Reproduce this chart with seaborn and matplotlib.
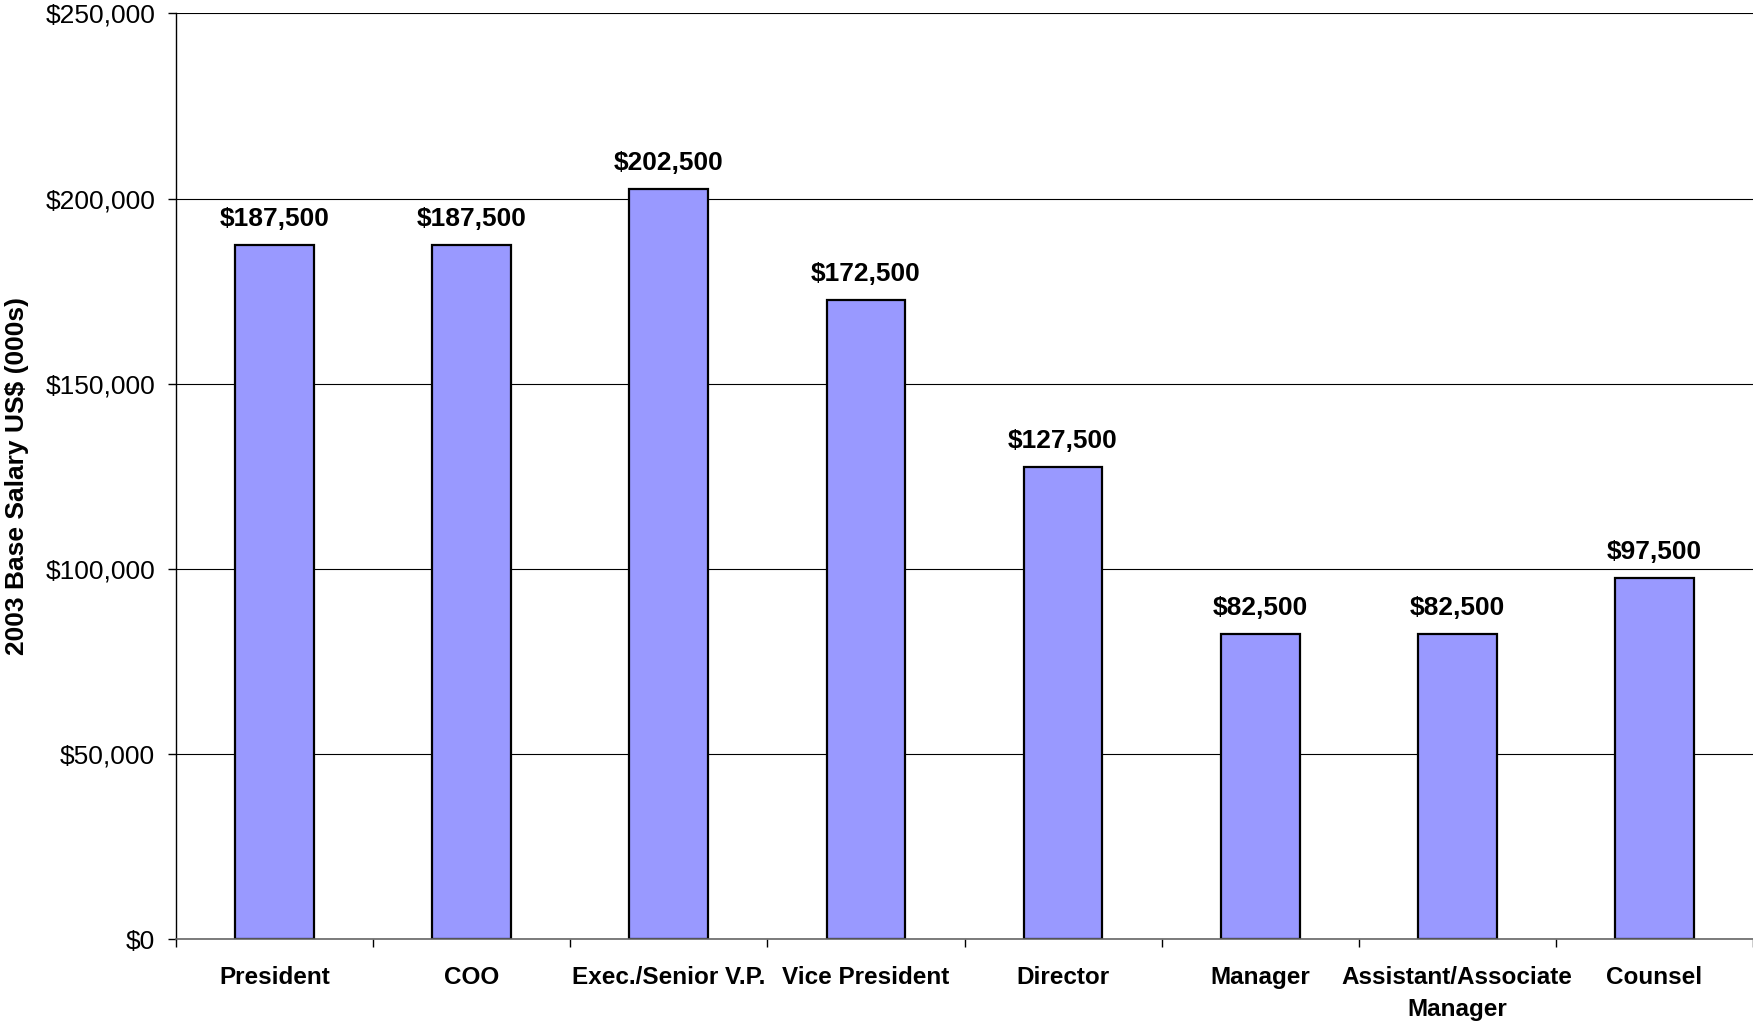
# %%
import numpy as np
import pandas as pd
import seaborn as sns
import matplotlib.pyplot as plt
from matplotlib.ticker import FuncFormatter, FixedLocator


# %%
positions = [
    "President",
    "COO",
    "Exec./Senior V.P.",
    "Vice President",
    "Director",
    "Manager",
    "Assistant/Associate\nManager",
    "Counsel",
]
base_salary = [187500, 187500, 202500, 172500, 127500, 82500, 82500, 97500]
y_label = "2003 Base Salary US$ (000s)"


# %%
sns.set_style("white")
plt.rcParams["font.family"] = ["Liberation Sans", "DejaVu Sans"]
plt.rcParams["text.color"] = "black"
plt.rcParams["xtick.color"] = "black"
plt.rcParams["ytick.color"] = "black"

df = pd.DataFrame({"position": positions, "salary": base_salary})

fig = plt.figure(figsize=(17.53, 10.21), dpi=100)
ax = fig.add_axes([0.1004, 0.0803, 0.8996, 0.9066])

sns.barplot(
    data=df,
    x="position",
    y="salary",
    color="#9999FF",
    saturation=1,
    edgecolor="black",
    linewidth=1.6,
    width=0.4,
    ax=ax,
)

ax.set_xlim(-0.5, len(positions) - 0.5)
ax.set_ylim(0, 250000)
ax.set_yticks(np.arange(0, 250001, 50000))
ax.yaxis.set_major_formatter(FuncFormatter(lambda v, p: f"${v:,.0f}"))

# gridlines
ax.set_axisbelow(True)
ax.yaxis.grid(True, color="black", linewidth=0.8)
ax.xaxis.grid(False)

# spines
for s in ["top", "right"]:
    ax.spines[s].set_visible(False)
ax.spines["left"].set_color("black")
ax.spines["left"].set_linewidth(1.0)
ax.spines["bottom"].set_color("#666666")
ax.spines["bottom"].set_linewidth(1.2)

# tick marks: y ticks outward, x ticks at category boundaries
ax.tick_params(axis="y", which="major", direction="out", length=6, width=1,
               color="black", left=True, pad=9, labelsize=19, labelcolor="black")
ax.tick_params(axis="x", which="major", length=0, pad=19.5, labelcolor="black")
ax.xaxis.set_minor_locator(FixedLocator(np.arange(-0.5, len(positions), 1.0)))
ax.tick_params(axis="x", which="minor", direction="out", length=6, width=1,
               color="black", bottom=True)
for lbl in ax.get_xticklabels():
    lbl.set_fontweight("bold")
    lbl.set_fontsize(17.5)
    lbl.set_linespacing(1.5)
    lbl.set_verticalalignment("top")

ax.set_xlabel("")
ax.set_ylabel("")
fig.text(0.0097, 0.534, y_label, rotation=90, ha="center", va="center",
         fontsize=19, fontweight="bold", color="black")

# value labels
ax.bar_label(ax.containers[0], labels=[f"${v:,.0f}" for v in base_salary],
             padding=10, fontsize=19, fontweight="bold", color="black")

plt.savefig("out.png", dpi=100)
